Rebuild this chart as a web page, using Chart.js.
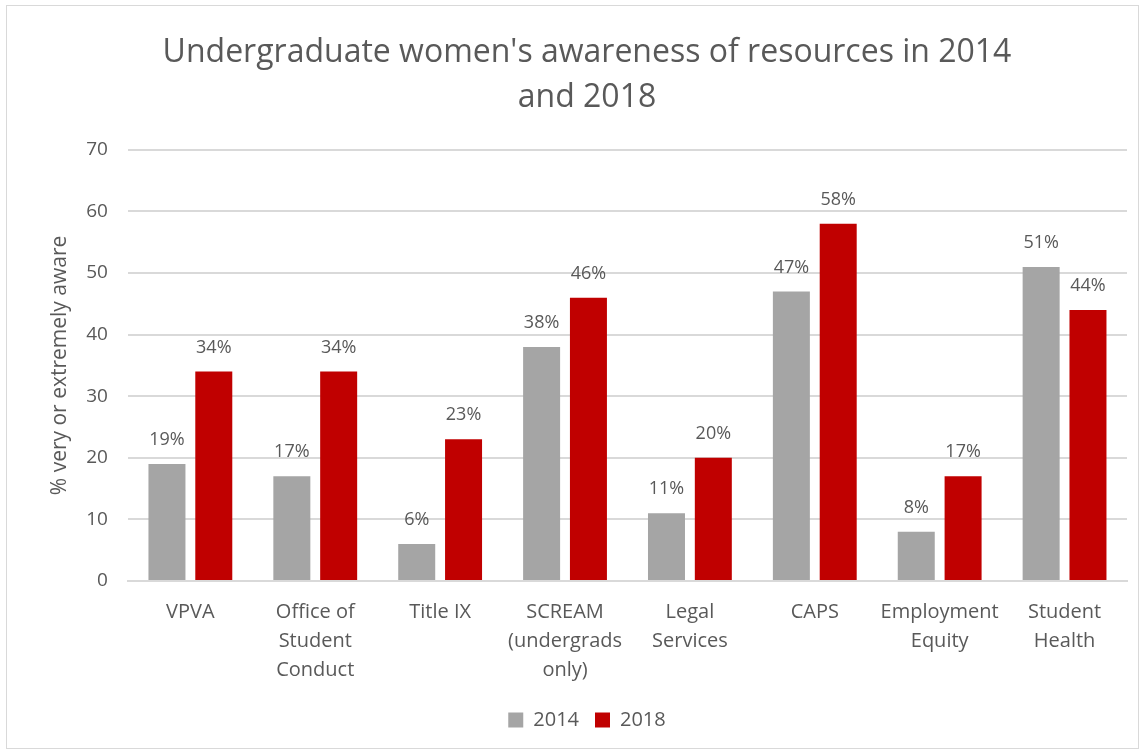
<!DOCTYPE html>
<html>
<head>
<meta charset="utf-8">
<script src="https://cdn.jsdelivr.net/npm/chart.js@4/dist/chart.umd.min.js"></script>
<style>
  body { margin: 0; background: #fff; }
  #wrap {
    position: absolute; left: 6px; top: 5px;
    width: 1133px; height: 744px;
    border: 1px solid #d9d9d9; box-sizing: border-box;
  }
</style>
</head>
<body>
<div id="wrap"><canvas id="awarenessChart"></canvas></div>
<script>
// Chart data
const categories = [
    'VPVA',
    ['Office of', 'Student', 'Conduct'],
    'Title IX',
    ['SCREAM', '(undergrads', 'only)'],
    ['Legal', 'Services'],
    'CAPS',
    ['Employment', 'Equity'],
    ['Student', 'Health']
];
const values2014 = [19, 17, 6, 38, 11, 47, 8, 51];
const values2018 = [34, 34, 23, 46, 20, 58, 17, 44];
const yTicks = [0, 10, 20, 30, 40, 50, 60, 70];

const textColor = '#595959';
const fontFamily = "'Open Sans', 'Noto Sans', sans-serif";

// Simple inline plugin to draw the % labels above each bar
const barValueLabels = {
    id: 'barValueLabels',
    afterDatasetsDraw(chart) {
        const ctx = chart.ctx;
        ctx.save();
        ctx.fillStyle = textColor;
        ctx.font = '18px ' + fontFamily;
        ctx.textAlign = 'center';
        ctx.textBaseline = 'bottom';
        chart.data.datasets.forEach((ds, i) => {
            const meta = chart.getDatasetMeta(i);
            meta.data.forEach((bar, j) => {
                ctx.fillText(ds.data[j] + '%', bar.x, bar.y - 15);
            });
        });
        ctx.restore();
    }
};

const canvas = document.getElementById('awarenessChart');

new Chart(canvas, {
    type: 'bar',
    data: {
        labels: categories,
        datasets: [
            {
                label: '2014',
                data: values2014,
                backgroundColor: '#a5a5a5',
                barPercentage: 0.79,
                categoryPercentage: 0.75
            },
            {
                label: '2018',
                data: values2018,
                backgroundColor: '#c00000',
                barPercentage: 0.79,
                categoryPercentage: 0.75
            }
        ]
    },
    options: {
        responsive: true,
        maintainAspectRatio: false,
        animation: false,
        layout: {
            padding: { left: 40, right: 11, top: 10, bottom: 8 }
        },
        plugins: {
            title: {
                display: true,
                text: ["Undergraduate women's awareness of resources in 2014", 'and 2018'],
                color: textColor,
                font: { family: fontFamily, size: 32, weight: 'normal', lineHeight: 1.42 },
                padding: { top: 14, bottom: 29 }
            },
            legend: {
                position: 'bottom',
                labels: {
                    color: textColor,
                    boxWidth: 15,
                    boxHeight: 15,
                    padding: 16,
                    font: { family: fontFamily, size: 20 }
                }
            },
            tooltip: { enabled: false }
        },
        scales: {
            x: {
                grid: { display: false },
                border: { color: '#d9d9d9', width: 2 },
                ticks: {
                    color: textColor,
                    maxRotation: 0,
                    autoSkip: false,
                    padding: 9,
                    font: { family: fontFamily, size: 20, lineHeight: 1.45 }
                }
            },
            y: {
                min: 0,
                max: 70,
                afterBuildTicks: axis => {
                    axis.ticks = yTicks.map(v => ({ value: v }));
                },
                grid: { color: '#d9d9d9', lineWidth: 2, drawTicks: false },
                border: { display: false },
                ticks: {
                    color: textColor,
                    padding: 20,
                    font: { family: fontFamily, size: 19 }
                },
                title: {
                    display: true,
                    text: '% very or extremely aware',
                    color: textColor,
                    font: { family: fontFamily, size: 21 },
                    padding: { top: 0, bottom: -6 }
                }
            }
        }
    },
    plugins: [barValueLabels]
});
</script>
</body>
</html>
